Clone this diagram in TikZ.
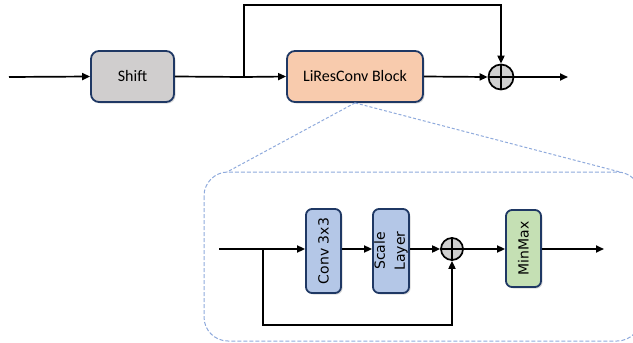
\documentclass[tikz,border=0pt]{standalone}
\usepackage{fontspec}
\setmainfont{Carlito}
\newfontfamily\innerfont{DejaVu Sans}
\usetikzlibrary{arrows.meta,shadows,calc}
\definecolor{bordc}{HTML}{1F3864}
\definecolor{shiftc}{HTML}{D0CECE}
\definecolor{peachc}{HTML}{F8CBAD}
\definecolor{bluec}{HTML}{B4C7E7}
\definecolor{greenc}{HTML}{C5E0B4}
\definecolor{dashc}{HTML}{8FAADC}
\definecolor{sumc}{HTML}{D0D0D0}
\begin{document}
\begin{tikzpicture}[x=1pt,y=-1pt,
  arr/.style={line width=1.7pt,-{Triangle[length=8pt,width=7pt]}},
  ln/.style={line width=1.7pt},
  topbox/.style={draw=bordc,line width=1.8pt,rounded corners=8pt,inner sep=0pt,
     font=\fontsize{16}{19}\selectfont,
     drop shadow={opacity=0.3,shadow xshift=1.5pt,shadow yshift=-1.5pt}},
  innerbox/.style={draw=bordc,line width=1.8pt,rounded corners=6pt,inner sep=0pt,
     drop shadow={opacity=0.3,shadow xshift=1.5pt,shadow yshift=-1.5pt}},
  intext/.style={rotate=90,align=center,font=\innerfont\fontsize{14}{20}\selectfont},
  sumnode/.style={draw=black,line width=1.7pt,circle,fill=sumc,inner sep=0pt},
  zoomln/.style={draw=dashc,line width=1pt,dash pattern=on 3pt off 2pt},
  framedash/.style={draw=dashc,line width=1pt,dash pattern=on 4pt off 2pt}]
\useasboundingbox (0,0) rectangle (633,343);
\clip (0,0) rectangle (633,343);
% top row
\node[topbox,fill=shiftc,minimum width=83pt,minimum height=51pt] (shift) at (132.5,76.5) {Shift};
\node[topbox,fill=peachc,minimum width=136pt,minimum height=51pt] (lires) at (355,76.5) {LiResConv Block};
\node[sumnode,minimum size=25pt] (sum) at (501,77) {};
\draw[ln] (sum.north) -- (sum.south) (sum.west) -- (sum.east);
\coordinate (in) at (9,77);
\coordinate (br) at (244,77);
\coordinate (out) at (568,77);
\draw[arr] (in) -- (shift.west);
\draw[ln] (shift.east) -- (br);
\draw[arr] (br) -- (lires.west);
\draw[arr] (br) -- (244,5) -| (sum.north);
\draw[arr] (lires.east) -- (sum.west);
\draw[arr] (sum.east) -- (out);
% zoom lines and dashed frame
\coordinate (zl) at (227,172);
\coordinate (zr) at (620,172);
\draw[zoomln] (lires.south) -- (zl);
\draw[zoomln] (lires.south) -- (zr);
\draw[framedash,rounded corners=24pt] (204,172) rectangle (641,341);
% inner block
\node[innerbox,fill=bluec,minimum width=35pt,minimum height=84pt] (conv) at (323.5,251) {};
\node[intext] at (conv.center) {Conv 3x3};
\node[innerbox,fill=bluec,minimum width=36pt,minimum height=84pt] (scale) at (391,251) {};
\node[intext] at (scale.center) {Scale\\Layer};
\node[sumnode,minimum size=22pt] (sum2) at (452,249) {};
\draw[ln] (sum2.north) -- (sum2.south) (sum2.west) -- (sum2.east);
\node[innerbox,fill=greenc,minimum width=35pt,minimum height=77pt] (minmax) at (523.5,248.5) {};
\node[intext] at (minmax.center) {MinMax};
\coordinate (in2) at (219,249);
\coordinate (br2) at (263,249);
\coordinate (out2) at (604,249);
\draw[ln] (in2) -- (br2);
\draw[arr] (br2) -- (conv.west |- br2);
\draw[arr] (conv.east |- br2) -- (scale.west |- br2);
\draw[arr] (scale.east |- br2) -- (sum2.west);
\draw[arr] (sum2.east) -- (minmax.west |- sum2);
\draw[arr] (minmax.east |- sum2) -- (out2);
\draw[arr] (br2) -- (263,325) -| (sum2.south);
\end{tikzpicture}
\end{document}
